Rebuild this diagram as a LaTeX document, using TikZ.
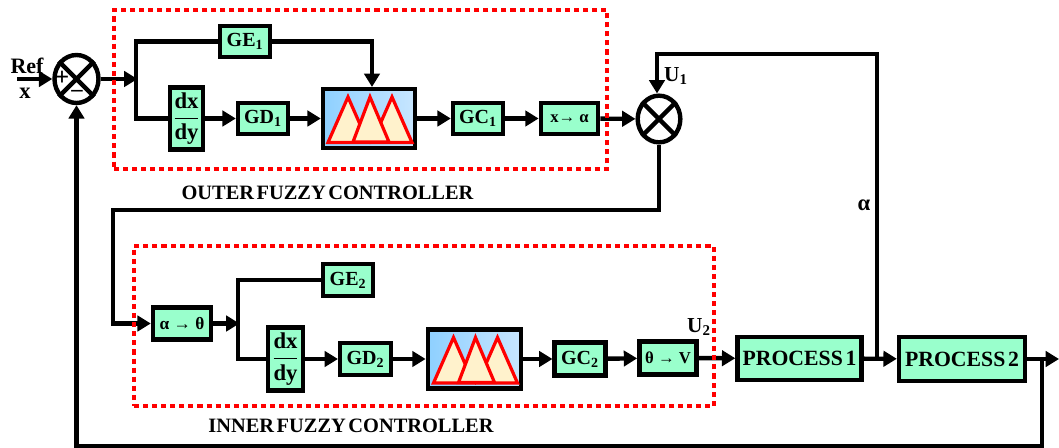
\documentclass[tikz,border=0pt]{standalone}
\usepackage{fontspec}
\setmainfont{Liberation Serif}
\newfontfamily\tightfam[WordSpace=0.5]{Liberation Serif}
\usetikzlibrary{arrows.meta,shapes.geometric,calc}
\definecolor{boxgreen}{HTML}{99FFCC}
\definecolor{skyA}{HTML}{8ED0FF}
\definecolor{skyB}{HTML}{C8E6FF}
\definecolor{cream}{HTML}{FFF2CC}
\newcommand{\fsize}[1]{\fontsize{#1}{#1}\selectfont\bfseries}
\newcommand{\dxdy}{\fsize{17}$\displaystyle\frac{\hbox{dx}}{\hbox{dy}}$}
\newcommand{\fuzzytris}[1]{%
  \begin{scope}[shift={#1}]
    \draw[tri] (-41,24) -- (-21,-21.5) -- (-1,24) -- cycle;
    \draw[tri] (3,24) -- (23,-21.5) -- (43,24) -- cycle;
    \draw[tri] (-16,23.5) -- (1,-21.5) -- (20,23.5) -- cycle;
  \end{scope}}
\tikzset{
  wire/.style={line width=3.3pt,draw=black},
  arr/.style={wire,-{Triangle[length=10pt,width=11.5pt]}},
  blockbox/.style={draw=black,line width=3.3pt,fill=boxgreen,inner sep=0pt,font=\fsize{15}},
  procbox/.style={blockbox,font=\tightfam\fsize{16.3}},
  fuzzybox/.style={draw=black,line width=3.3pt,left color=skyA,right color=skyB,inner sep=0pt},
  tri/.style={draw=red,line width=2.4pt,fill=cream,line join=miter},
  sumnode/.style={ellipse,draw=black,line width=3.3pt,fill=white,inner sep=0pt},
  redbox/.style={draw=red,line width=3.2pt,dash pattern=on 3.8pt off 3pt,inner sep=0pt},
  lab/.style={font=\fsize{16},inner sep=0pt},
  title/.style={font=\tightfam\fsize{15.3},inner sep=0pt}
}
\begin{document}
\begin{tikzpicture}[x=0.75pt,y=-0.75pt]
\useasboundingbox (0,0) rectangle (1059,448);
% outer controller
\node[sumnode,minimum width=33pt,minimum height=36pt] (s1) at (76.5,79) {};
\node[blockbox,minimum width=37.5pt,minimum height=23.5pt] (GE1) at (245,41.5) {GE\textsubscript{1}};
\node[blockbox,minimum width=25pt,minimum height=46.5pt] (d1) at (186.5,118.5) {\dxdy};
\node[blockbox,minimum width=37.5pt,minimum height=23.5pt] (GD1) at (263,118.5) {GD\textsubscript{1}};
\node[fuzzybox,minimum width=69pt,minimum height=44pt] (F1) at (369,118.5) {};
\node[blockbox,minimum width=43pt,minimum height=23.5pt,font=\fsize{12.5}] (XA) at (569.5,118.5) {x→ α};
\node[blockbox,minimum width=37.5pt,minimum height=23.5pt] (GC1) at (478,118.5) {GC\textsubscript{1}};
\node[sumnode,minimum width=32pt,minimum height=35pt] (s2) at (659,119) {};
% inner controller
\node[blockbox,minimum width=43.5pt,minimum height=24pt,font=\fsize{13}] (AT) at (182,323.5) {α → θ};
\node[blockbox,minimum width=37.5pt,minimum height=24pt] (GE2) at (348,280) {GE\textsubscript{2}};
\node[blockbox,minimum width=26pt,minimum height=47pt] (d2) at (285.5,359) {\dxdy};
\node[blockbox,minimum width=38pt,minimum height=24pt] (GD2) at (365.5,359) {GD\textsubscript{2}};
\node[fuzzybox,minimum width=70pt,minimum height=44pt] (F2) at (474.5,359) {};
\node[blockbox,minimum width=38pt,minimum height=25pt] (GC2) at (580,359) {GC\textsubscript{2}};
\node[blockbox,minimum width=43pt,minimum height=25pt,font=\fsize{12.5}] (TV) at (668,358) {θ → V};
\node[procbox,minimum width=93pt,minimum height=32pt] (P1) at (799.5,358.5) {PROCESS 1};
\node[procbox,minimum width=94.5pt,minimum height=33pt] (P2) at (962,359) {PROCESS 2};
% free ends and bends
\coordinate (in) at (17,79);
\coordinate (b1) at (136,79);
\coordinate (b2) at (238,323.5);
\coordinate (j1) at (877,359);
\coordinate (j2) at (1042,359);
\coordinate (out) at (1059,359);
\coordinate (top) at (877,54);
\coordinate (low) at (113,210);
\coordinate (fbk) at (1042,446.5);
% triangles
\fuzzytris{(F1)}
\fuzzytris{(F2)}
% crossing lines in the summing nodes
\draw[wire] (s1.45) -- (s1.225) (s1.135) -- (s1.315);
\draw[wire] (s2.45) -- (s2.225) (s2.135) -- (s2.315);
% connectors, outer
\draw[arr] (in) -- (s1);
\draw[arr] (s1) -- ($(b1)+(1.5,0)$);
\draw[wire,line join=miter] (GE1.west) -| (b1) |- (d1.west);
\draw[arr] (GE1.east) -| ($(F1.north)+(3,0)$);
\draw[arr] (d1) -- (GD1);
\draw[arr] (GD1) -- (F1);
\draw[arr] (F1) -- (GC1);
\draw[arr] (GC1) -- (XA);
\draw[arr] (XA) -- (s2);
% connectors, inner
\draw[arr] (s2.south) |- (low) |- (AT.west);
\draw[arr] (AT) -- ($(b2)+(1.5,0)$);
\draw[wire,line join=miter] (GE2.west) -| (b2) |- (d2.west);
\draw[arr] (d2) -- (GD2);
\draw[arr] (GD2) -- (F2);
\draw[arr] (F2) -- (GC2);
\draw[arr] (GC2) -- (TV);
\draw[arr] (TV) -- (P1);
\draw[arr] (P1) -- (P2);
\draw[arr] (j1) -- (top) -| ($(s2.north)+(-2,0)$);
\draw[arr] (P2) -- (out);
\draw[arr] (j2) -- (fbk) -| (s1.south);
% dotted frames
\node[redbox,minimum width=369.75pt,minimum height=119.25pt] (outerbox) at (360.5,89.5) {};
\node[redbox,minimum width=435pt,minimum height=120pt] (innerbox) at (424,326) {};
% labels
\node[lab,font=\fsize{16.5}] (ref) at (27,66) {Ref};
\node[lab,font=\fsize{17}] (xin) at (25,93) {x};
\node[lab,font=\fsize{19}] (plus) at (62,78) {+};
\node[lab,font=\fsize{17}] (minus) at (77,93) {–};
\node[lab] (u1) at (676,76) {U\textsubscript{1}};
\node[lab] (u2) at (699,327) {U\textsubscript{2}};
\node[lab,font=\fsize{17}] (al) at (864,205) {α};
\node[title] (t1) at (327.5,193) {OUTER FUZZY CONTROLLER};
\node[title] (t2) at (351,426) {INNER FUZZY CONTROLLER};
\end{tikzpicture}
\end{document}
